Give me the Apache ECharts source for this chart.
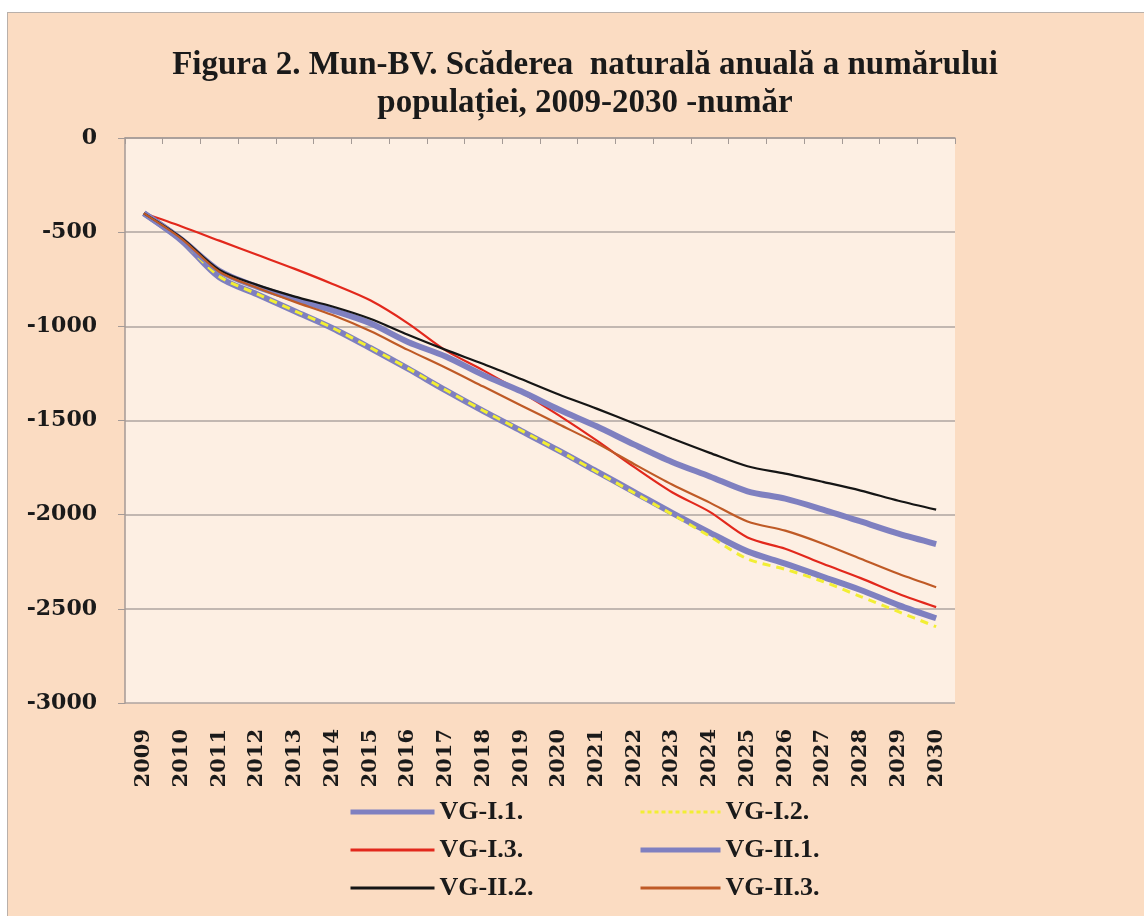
<!DOCTYPE html>
<html>
<head>
<meta charset="utf-8">
<title>Figura 2</title>
<script src="https://cdn.jsdelivr.net/npm/echarts@6/dist/echarts.min.js"></script>
<style>
  html, body { margin: 0; padding: 0; background: #ffffff; }
  .frame {
    position: absolute; left: 7px; top: 12px; width: 1150px; height: 920px;
    background: #fbdcc2; border: 1px solid #b9b0aa;
  }
  #chart { position: absolute; left: 0; top: 0; width: 1144px; height: 916px; }
</style>
</head>
<body>
<div class="frame"></div>
<div id="chart"></div>
<script>
// ani
const years = ['2009', '2010', '2011', '2012', '2013', '2014', '2015', '2016', '2017', '2018', '2019',
  '2020', '2021', '2022', '2023', '2024', '2025', '2026', '2027', '2028', '2029', '2030']

// valori
const vgI1 = [-400, -545, -740, -830, -920, -1010, -1115, -1225, -1340, -1450, -1555,
  -1660, -1770, -1880, -1990, -2095, -2195, -2260, -2330, -2400, -2480, -2550]
const vgI2 = [-400, -545, -735, -828, -918, -1008, -1113, -1223, -1338, -1448, -1553,
  -1660, -1772, -1885, -1998, -2115, -2235, -2290, -2355, -2435, -2515, -2595]
const vgI3 = [-400, -470, -545, -620, -695, -775, -862, -984, -1128, -1234, -1349,
  -1473, -1606, -1748, -1881, -1985, -2121, -2181, -2261, -2337, -2420, -2491]
const vgII1 = [-400, -540, -705, -790, -855, -915, -984, -1083, -1160, -1259, -1345,
  -1442, -1531, -1628, -1720, -1797, -1876, -1915, -1973, -2036, -2101, -2156]
const vgII2 = [-400, -530, -700, -780, -842, -895, -960, -1045, -1125, -1200, -1280,
  -1362, -1437, -1516, -1596, -1672, -1743, -1782, -1826, -1872, -1926, -1973]
const vgII3 = [-400, -535, -710, -795, -870, -940, -1025, -1125, -1220, -1320, -1420,
  -1520, -1620, -1732, -1840, -1936, -2036, -2085, -2154, -2234, -2314, -2385]

const yTicks = [0, -500, -1000, -1500, -2000, -2500, -3000]

let chart = echarts.init(document.getElementById('chart'))

const serif = '"DejaVu Serif", serif'
const titleFont = '"Liberation Serif", serif'

function line(name, data, color, width, type) {
  return {
    name: name,
    type: 'line',
    data: data,
    smooth: 0.3,
    symbol: 'none',
    color: color,
    lineStyle: {color: color, width: width, type: type || 'solid'}
  }
}

const legendText = {fontFamily: titleFont, fontWeight: 'bold', fontSize: 26, color: '#1a1a1a'}

const option = {
  animation: false,
  title: {
    text: 'Figura 2. Mun-BV. Scăderea  naturală anuală a numărului\npopulației, 2009-2030 -număr',
    left: 580,
    top: 41,
    textAlign: 'center',
    textStyle: {
      fontFamily: titleFont,
      fontWeight: 'bold',
      fontSize: 33,
      lineHeight: 38,
      color: '#1a1a1a'
    }
  },
  grid: {
    left: 125,
    right: 189,
    top: 138,
    bottom: 213,
    show: true,
    backgroundColor: '#fdefe3',
    borderWidth: 0
  },
  legend: [
    {
      data: [
        {name: 'VG-I.1.', lineStyle: {width: 5}},
        {name: 'VG-I.3.', lineStyle: {width: 3}},
        {name: 'VG-II.2.', lineStyle: {width: 3}}
      ],
      orient: 'vertical',
      left: 343,
      top: 794,
      itemWidth: 84,
      itemHeight: 14,
      itemGap: 12,
      itemStyle: {opacity: 0},
      textStyle: legendText
    },
    {
      data: [
        {name: 'VG-I.2.', lineStyle: {width: 3, type: [4, 3]}},
        {name: 'VG-II.1.', lineStyle: {width: 5}},
        {name: 'VG-II.3.', lineStyle: {width: 3}}
      ],
      orient: 'vertical',
      left: 633,
      top: 794,
      itemWidth: 80,
      itemHeight: 14,
      itemGap: 12,
      itemStyle: {opacity: 0},
      textStyle: legendText
    }
  ],
  xAxis: [
    {
      type: 'category',
      data: years,
      position: 'bottom',
      boundaryGap: true,
      axisLine: {show: false},
      axisTick: {show: false},
      axisLabel: {
        rotate: 90,
        margin: 26,
        fontFamily: serif,
        fontWeight: 'bold',
        fontSize: 21,
        color: '#1a1a1a',
        interval: 0
      }
    },
    {
      type: 'category',
      data: years,
      position: 'top',
      boundaryGap: true,
      axisLine: {show: true, lineStyle: {color: '#a49a96', width: 1.5}},
      axisTick: {show: true, inside: true, length: 6, lineStyle: {color: '#a49a96'}},
      axisLabel: {show: false}
    }
  ],
  yAxis: {
    type: 'value',
    min: -3000,
    max: 0,
    interval: 500,
    axisLine: {show: true, lineStyle: {color: '#a49a96', width: 1.5}},
    axisTick: {show: true, length: 7, lineStyle: {color: '#a49a96'}},
    splitLine: {show: true, lineStyle: {color: '#aea4a0', width: 1.5}},
    axisLabel: {
      margin: 28,
      fontFamily: serif,
      fontWeight: 'bold',
      fontSize: 22,
      color: '#1a1a1a',
      formatter: function (v) {
        return yTicks.indexOf(v) >= 0 ? String(v) : ''
      }
    }
  },
  series: [
    line('VG-I.1.', vgI1, '#7f80c0', 6),
    line('VG-I.2.', vgI2, '#f2ee34', 3, [8, 6]),
    line('VG-I.3.', vgI3, '#e2281c', 2.2),
    line('VG-II.1.', vgII1, '#7f80c0', 6),
    line('VG-II.2.', vgII2, '#151515', 2.2),
    line('VG-II.3.', vgII3, '#bf5a26', 2.2)
  ]
}

chart.setOption(option)
</script>
</body>
</html>
